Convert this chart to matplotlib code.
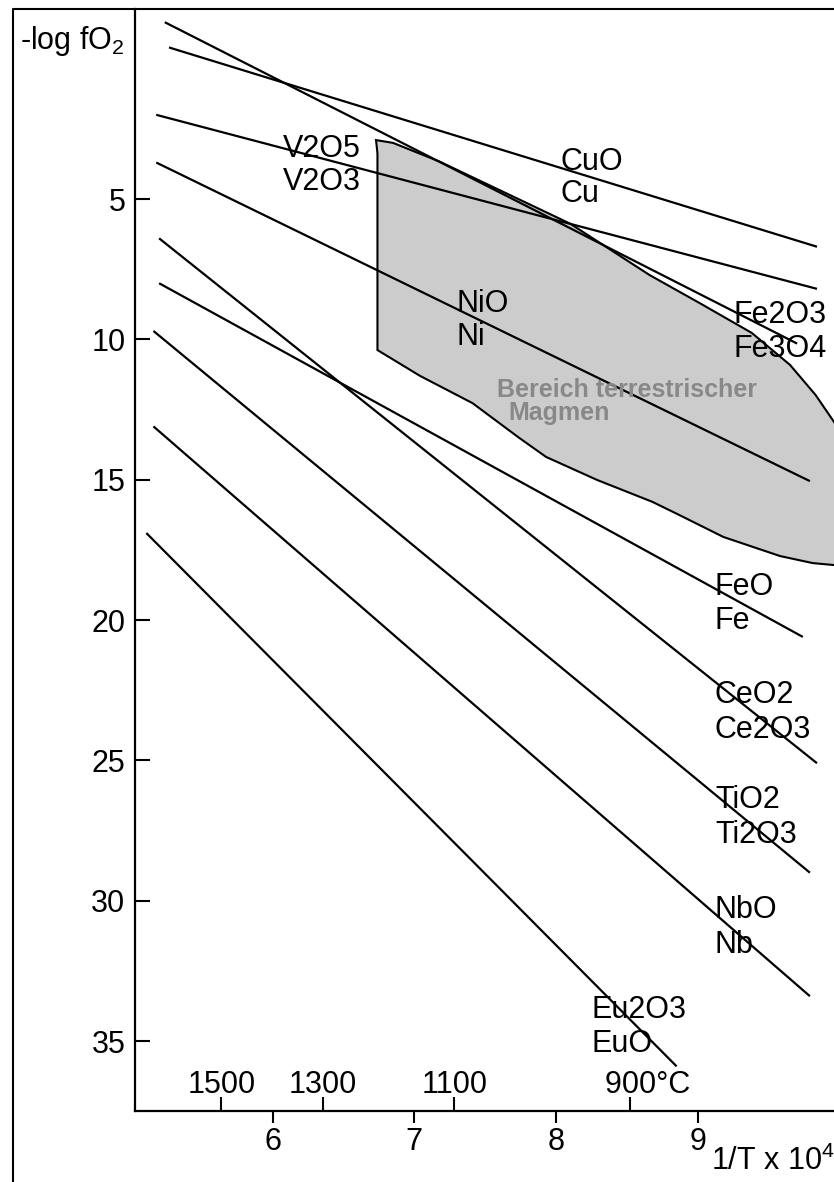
import matplotlib
matplotlib.use("Agg")
import matplotlib.pyplot as plt
import numpy as np
from matplotlib.lines import Line2D

plt.rcParams['font.family'] = ['Liberation Sans', 'DejaVu Sans']
plt.rcParams['mathtext.fontset'] = 'custom'
plt.rcParams['mathtext.rm'] = 'Liberation Sans'
plt.rcParams['mathtext.it'] = 'Liberation Sans:italic'

# buffer lines: -log fO2 vs 1/T x 10^4
reactions = ["Fe2O3/Fe3O4", "CuO/Cu", "V2O5/V2O3", "NiO/Ni", "CeO2/Ce2O3",
             "FeO/Fe", "TiO2/Ti2O3", "NbO/Nb", "Eu2O3/EuO"]
x_start = [5.24, 5.27, 5.18, 5.18, 5.20, 5.20, 5.16, 5.16, 5.11]
y_start = [-1.3, -0.4, 2.0, 3.7, 6.4, 8.0, 9.7, 13.1, 16.9]
x_end = [9.70, 9.84, 9.84, 9.79, 9.84, 9.74, 9.79, 9.79, 8.85]
y_end = [10.15, 6.7, 8.2, 15.05, 25.1, 20.6, 29.0, 33.4, 35.9]

# field of terrestrial magmas (outline)
magma_x = [6.73, 6.85, 7.18, 8.10, 8.66, 9.01, 9.38, 9.65, 9.83, 9.96, 10.1,
           10.1, 9.96, 9.81, 9.58, 9.18, 8.87, 8.68, 8.29, 7.93, 7.74, 7.41,
           7.04, 6.74, 6.74]
magma_y = [2.90, 3.00, 3.67, 5.88, 7.71, 8.70, 9.77, 10.91, 11.98, 12.94, 14.0,
           18.1, 18.04, 17.97, 17.72, 17.04, 16.26, 15.79, 15.01, 14.19, 13.51,
           12.27, 11.30, 10.38, 3.37]

# labels (upper oxide, lower phase) and where they sit
upper_labels = ["Fe2O3", "CuO", "V2O5", "NiO", "CeO2", "FeO", "TiO2", "NbO", "Eu2O3"]
lower_labels = ["Fe3O4", "Cu", "V2O3", "Ni", "Ce2O3", "Fe", "Ti2O3", "Nb", "EuO"]
label_x = [9.25, 8.03, 6.07, 7.30, 9.12, 9.12, 9.12, 9.12, 8.25]
upper_y = [9.42, 3.97, 3.50, 9.02, 22.95, 19.10, 26.69, 30.61, 34.17]
lower_y = [10.63, 5.10, 4.68, 10.20, 24.20, 20.32, 27.94, 31.86, 35.39]

inv_ticks = [6, 7, 8, 9]
y_ticks = [5, 10, 15, 20, 25, 30, 35]
temp_c = [1500, 1300, 1100, 900]
temp_labels = ["1500", "1300", "1100", "    900°C"]

W, H = 834, 1182
fig = plt.figure(figsize=(W / 100, H / 100), dpi=100)
ax = fig.add_axes([135 / W, 1 - 1111 / H, 1 - 135 / W, (1111 - 9) / H])

ax.fill(magma_x, magma_y, facecolor='#cccccc', edgecolor='black', lw=1.5, zorder=1)

for i in range(len(reactions)):
    ax.plot([x_start[i], x_end[i]], [y_start[i], y_end[i]], color='black',
            lw=1.6, solid_capstyle='butt', zorder=2)
    ax.text(label_x[i], upper_y[i], upper_labels[i], fontsize=22, va='baseline', zorder=3)
    ax.text(label_x[i], lower_y[i], lower_labels[i], fontsize=22, va='baseline', zorder=3)

ax.text(7.58, 12.05, "Bereich terrestrischer", fontsize=18, fontweight='bold',
        color='#888888', va='baseline', zorder=3)
ax.text(7.66, 12.87, "Magmen", fontsize=18, fontweight='bold',
        color='#888888', va='baseline', zorder=3)

ax.set_xlim(5.03, 9.96)
ax.set_ylim(37.49, -1.77)
ax.set_facecolor('none')
for s in ['top', 'right']:
    ax.spines[s].set_visible(False)
for s in ['left', 'bottom']:
    ax.spines[s].set_linewidth(1.6)

ax.set_xticks(inv_ticks)
ax.set_yticks(y_ticks)
ax.tick_params(axis='x', direction='out', length=8.5, width=1.5, labelsize=22, pad=3)
ax.tick_params(axis='y', direction='in', length=11, width=1.5, labelsize=22, pad=7)


def to_celsius(x):
    x = np.asarray(x, dtype=float)
    with np.errstate(divide='ignore', invalid='ignore'):
        return 1e4 / x - 273.15


def to_inv(t):
    t = np.asarray(t, dtype=float)
    with np.errstate(divide='ignore', invalid='ignore'):
        return 1e4 / (t + 273.15)


sec = ax.secondary_xaxis('bottom', functions=(to_celsius, to_inv))
sec.set_xticks(temp_c, labels=temp_labels)
sec.spines['bottom'].set_visible(False)
sec.tick_params(direction='in', length=10, width=1.5, labelsize=22, pad=-29.5)

fig.text(20 / W, 1 - 49 / H, "-log fO$_2$", fontsize=22, va='baseline', ha='left')
fig.text(711 / W, 1 - 1170 / H, "1/T x 10$^4$", fontsize=22, va='baseline', ha='left')

# outer frame
fig.add_artist(Line2D([13 / W, 13 / W, 1], [0, 1 - 9 / H, 1 - 9 / H],
                      color='black', lw=1.5, transform=fig.transFigure))

fig.savefig('out.png', dpi=100)
